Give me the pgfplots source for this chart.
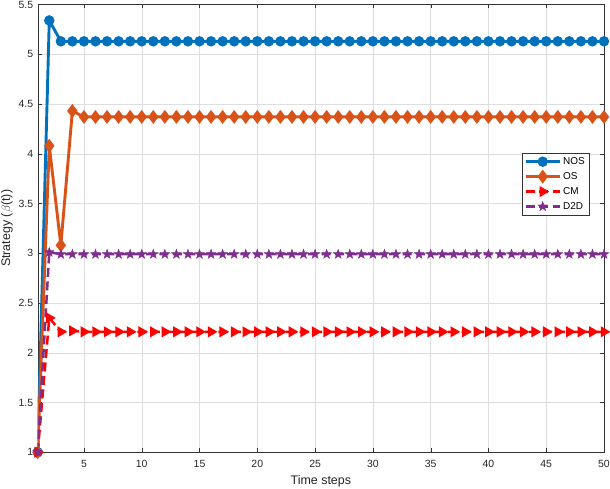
\documentclass[border=0pt]{standalone}
\usepackage{pgfplots}
\pgfplotsset{compat=1.18}
\usepackage{pgfplotstable}
\usepackage{fontspec}
\setmainfont{Liberation Sans}

\definecolor{mblue}{rgb}{0,0.447,0.741}
\definecolor{morange}{rgb}{0.85,0.325,0.098}
\definecolor{mpurple}{rgb}{0.494,0.184,0.556}

% filled five-pointed star, like matlab's 'p' marker
\pgfdeclareplotmark{pstar}{%
  \pgfpathmoveto{\pgfqpointpolar{90}{\pgfplotmarksize}}%
  \pgfpathlineto{\pgfqpointpolar{126}{0.4\pgfplotmarksize}}%
  \pgfpathlineto{\pgfqpointpolar{162}{\pgfplotmarksize}}%
  \pgfpathlineto{\pgfqpointpolar{198}{0.4\pgfplotmarksize}}%
  \pgfpathlineto{\pgfqpointpolar{234}{\pgfplotmarksize}}%
  \pgfpathlineto{\pgfqpointpolar{270}{0.4\pgfplotmarksize}}%
  \pgfpathlineto{\pgfqpointpolar{306}{\pgfplotmarksize}}%
  \pgfpathlineto{\pgfqpointpolar{342}{0.4\pgfplotmarksize}}%
  \pgfpathlineto{\pgfqpointpolar{18}{\pgfplotmarksize}}%
  \pgfpathlineto{\pgfqpointpolar{54}{0.4\pgfplotmarksize}}%
  \pgfpathclose
  \pgfusepathqfillstroke}

\pgfplotstableread{
t  nos   os    cm    d2d
1  1.00  1.00  1.00  1.00
2  5.34  4.08  2.35  3.01
3  5.13  3.08  2.21  2.99
4  5.13  4.43  2.22  2.99
5  5.13  4.37  2.21  2.99
6  5.13  4.37  2.21  2.99
7  5.13  4.37  2.21  2.99
8  5.13  4.37  2.21  2.99
9  5.13  4.37  2.21  2.99
10 5.13  4.37  2.21  2.99
11 5.13  4.37  2.21  2.99
12 5.13  4.37  2.21  2.99
13 5.13  4.37  2.21  2.99
14 5.13  4.37  2.21  2.99
15 5.13  4.37  2.21  2.99
16 5.13  4.37  2.21  2.99
17 5.13  4.37  2.21  2.99
18 5.13  4.37  2.21  2.99
19 5.13  4.37  2.21  2.99
20 5.13  4.37  2.21  2.99
21 5.13  4.37  2.21  2.99
22 5.13  4.37  2.21  2.99
23 5.13  4.37  2.21  2.99
24 5.13  4.37  2.21  2.99
25 5.13  4.37  2.21  2.99
26 5.13  4.37  2.21  2.99
27 5.13  4.37  2.21  2.99
28 5.13  4.37  2.21  2.99
29 5.13  4.37  2.21  2.99
30 5.13  4.37  2.21  2.99
31 5.13  4.37  2.21  2.99
32 5.13  4.37  2.21  2.99
33 5.13  4.37  2.21  2.99
34 5.13  4.37  2.21  2.99
35 5.13  4.37  2.21  2.99
36 5.13  4.37  2.21  2.99
37 5.13  4.37  2.21  2.99
38 5.13  4.37  2.21  2.99
39 5.13  4.37  2.21  2.99
40 5.13  4.37  2.21  2.99
41 5.13  4.37  2.21  2.99
42 5.13  4.37  2.21  2.99
43 5.13  4.37  2.21  2.99
44 5.13  4.37  2.21  2.99
45 5.13  4.37  2.21  2.99
46 5.13  4.37  2.21  2.99
47 5.13  4.37  2.21  2.99
48 5.13  4.37  2.21  2.99
49 5.13  4.37  2.21  2.99
50 5.13  4.37  2.21  2.99
}\strategydata

\begin{document}
\begin{tikzpicture}
\begin{axis}[
    scale only axis,
    width=566bp, height=447.5bp,
    xmin=1, xmax=50,
    ymin=1, ymax=5.5,
    xtick={5,10,...,50},
    ytick={1,1.5,...,5.5},
    /pgf/number format/assume math mode=true,
    tick label style={font=\fontsize{10.5}{12}\selectfont, color=black!85},
    xticklabel style={anchor=base, yshift=-15.3bp},
    yticklabel style={anchor=east, xshift=-1bp,
        /pgf/number format/fixed, /pgf/number format/precision=1},
    label style={font=\fontsize{12.5}{14}\selectfont, color=black!85},
    xlabel={Time steps},
    ylabel={Strategy ($\beta$(t))},
    xlabel style={at={(axis description cs:0.5,-0.0715)}, anchor=base},
    ylabel style={at={(axis description cs:-0.0489,0.5)}, anchor=base},
    grid=major,
    major grid style={black!13},
    axis line style={black!80},
    tick style={black!80},
    tick align=inside,
    major tick length=4pt,
    legend style={at={(0.9735,0.6677)}, anchor=north east,
        font=\fontsize{10}{11}\selectfont, draw=black!80,
        inner sep=2bp, row sep=2.5bp},
    legend cell align=left,
    legend image code/.code={%
        \draw[mark repeat=2, mark phase=2]
            plot coordinates {(0cm,0cm) (0.6cm,0cm) (1.2cm,0cm)};},
]
\addplot[color=mblue, line width=2.9pt, mark=*, mark size=3.7pt]
    table[x=t, y=nos] {\strategydata};
\addplot[color=morange, line width=2.9pt, mark=diamond*, mark size=4.6pt]
    table[x=t, y=os] {\strategydata};
\addplot[color=red, line width=2.5pt, dash pattern=on 9bp off 4.5bp,
    mark=triangle*, mark size=4pt, mark options={solid, rotate=-90}]
    table[x=t, y=cm] {\strategydata};
\addplot[color=mpurple, line width=2.5pt, dash pattern=on 9bp off 4.5bp,
    mark=pstar, mark size=5pt, mark options={solid, line width=0.4pt}]
    table[x=t, y=d2d] {\strategydata};
\legend{NOS, OS, CM, D2D}
\end{axis}
\pgfresetboundingbox
\path ([shift={(-37.7bp,-36bp)}]current axis.south west)
    rectangle ([shift={(6bp,4.5bp)}]current axis.north east);
\end{tikzpicture}
\end{document}
